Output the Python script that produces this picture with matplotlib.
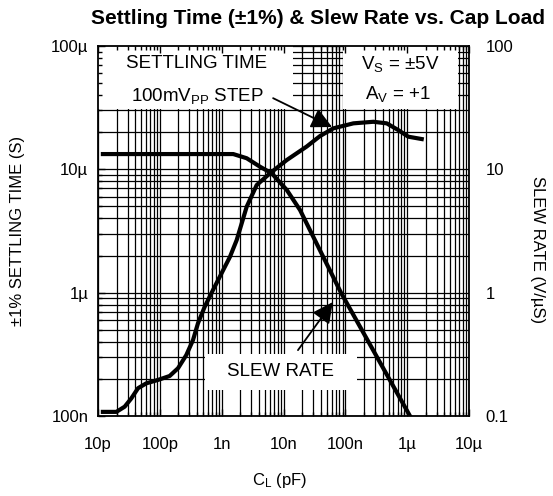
import matplotlib
matplotlib.use('Agg')
import matplotlib.pyplot as plt
from matplotlib.patches import Rectangle
from matplotlib.ticker import LogLocator, NullFormatter

plt.rcParams['font.family'] = ['Liberation Sans', 'DejaVu Sans']
plt.rcParams['mathtext.fontset'] = 'custom'
plt.rcParams['mathtext.rm'] = 'Liberation Sans'
plt.rcParams['mathtext.it'] = 'Liberation Sans'
plt.rcParams['mathtext.bf'] = 'Liberation Sans:bold'

# ---- data ----
# Settling time (+-1%), seconds, vs load capacitance (F)
cap_settle = [1.2e-11, 1.98e-11, 2.7e-11, 3.46e-11, 4.44e-11, 6.04e-11, 9.3e-11,
              1.44e-10, 1.97e-10, 2.68e-10, 3.44e-10, 4.14e-10, 5.32e-10, 7.24e-10,
              1.36e-9, 1.75e-9, 2.54e-9, 3.69e-9, 6.05e-9, 1.13e-8, 2.37e-8,
              3.89e-8, 6.4e-8, 1.35e-7, 2.84e-7, 4.67e-7, 7.19e-7, 1.04e-6, 1.72e-6]
settle = [1.08e-7, 1.08e-7, 1.19e-7, 1.39e-7, 1.68e-7, 1.84e-7, 1.96e-7,
          2.11e-7, 2.44e-7, 3.12e-7, 4.13e-7, 5.65e-7, 7.69e-7, 1.05e-6,
          1.95e-6, 2.67e-6, 4.98e-6, 7.46e-6, 9.29e-6, 1.19e-5, 1.53e-5,
          1.86e-5, 2.15e-5, 2.36e-5, 2.43e-5, 2.36e-5, 2.08e-5, 1.84e-5, 1.76e-5]

# Slew rate, V/us, vs load capacitance (F)
cap_slew = [1.2e-11, 9.4e-10, 1.54e-9, 2.54e-9, 4.17e-9, 6.44e-9, 1.13e-8,
            1.85e-8, 3.03e-8, 8.5e-8, 1.11e-6]
slew = [13.3, 13.3, 13.3, 12.3, 10.5, 9.29, 6.8, 4.68, 2.84, 1.0, 0.1]

x_ticks = [1e-11, 1e-10, 1e-9, 1e-8, 1e-7, 1e-6, 1e-5]
x_labels = ['10p', '100p', '1n', '10n', '100n', '1µ', '10µ']
yl_ticks = [1e-7, 1e-6, 1e-5, 1e-4]
yl_labels = ['100n', '1µ', '10µ', '100µ']
yr_ticks = [0.1, 1, 10, 100]
yr_labels = ['0.1', '1', '10', '100']

W, H = 553, 496
fig = plt.figure(figsize=(W / 100, H / 100), dpi=100)
pos = [98 / W, 80 / H, 371 / W, 370 / H]

# ---- grid axes ----
ax = fig.add_axes(pos)
ax.set_xscale('log')
ax.set_yscale('log')
ax.set_xlim(1e-11, 1e-5)
ax.set_ylim(1e-7, 1e-4)
for a in (ax.xaxis, ax.yaxis):
    a.set_major_locator(LogLocator(base=10, numticks=20))
    a.set_minor_locator(LogLocator(base=10, subs=range(2, 10), numticks=20))
    a.set_minor_formatter(NullFormatter())
ax.grid(True, which='both', color='black', lw=0.9)
ax.set_axisbelow(True)
ax.tick_params(which='both', length=0, labelleft=False, labelbottom=False)
for s in ax.spines.values():
    s.set_visible(False)

# white label boxes
for (x0, y0, w, h) in [(0.0, 0.830, 0.526, 0.170),
                       (0.660, 0.830, 0.310, 0.170),
                       (0.288, 0.070, 0.410, 0.098)]:
    ax.add_patch(Rectangle((x0, y0), w, h, transform=ax.transAxes,
                           facecolor='white', edgecolor='none', zorder=1))

ax.plot(cap_settle, settle, color='black', lw=3, zorder=3)

# ---- frame / ticks axes ----
ax_t = fig.add_axes(pos)
ax_t.set_facecolor('none')
ax_t.set_xscale('log')
ax_t.set_yscale('log')
ax_t.set_xlim(1e-11, 1e-5)
ax_t.set_ylim(1e-7, 1e-4)
ax_t.set_xticks(x_ticks, labels=x_labels)
ax_t.set_yticks(yl_ticks, labels=yl_labels)
for a in (ax_t.xaxis, ax_t.yaxis):
    a.set_minor_locator(LogLocator(base=10, subs=range(2, 10), numticks=20))
    a.set_minor_formatter(NullFormatter())
ax_t.tick_params(which='both', direction='in', top=True, right=True,
                 width=1, labelsize=12)
ax_t.tick_params(which='major', length=5)
ax_t.tick_params(which='minor', length=3)
ax_t.tick_params(axis='y', pad=7)
ax_t.tick_params(axis='x', pad=15)
for s in ax_t.spines.values():
    s.set_linewidth(1.3)

# ---- right axis (slew rate) ----
ax_r = ax_t.twinx()
ax_r.set_yscale('log')
ax_r.set_ylim(0.1, 100)
ax_r.set_yticks(yr_ticks, labels=yr_labels)
ax_r.yaxis.set_minor_formatter(NullFormatter())
ax_r.tick_params(which='both', length=0, labelsize=12, pad=12)
for s in ax_r.spines.values():
    s.set_visible(False)
ax_r.plot(cap_slew, slew, color='black', lw=3, clip_on=True)

# ---- annotations ----
tk = dict(transform=ax_t.transAxes, ha='center', va='center', fontsize=13.5)
ax_t.text(0.267, 0.953, 'SETTLING TIME', **tk)
ax_t.text(0.267, 0.866, r'100mV$_{\mathrm{PP}}$ STEP', **tk)
ax_t.text(0.814, 0.952, r'V$_{\mathrm{S}}$ = ±5V', **tk)
ax_t.text(0.809, 0.870, r'A$_{\mathrm{V}}$ = +1', **tk)
ax_t.text(0.491, 0.119, 'SLEW RATE', **tk)

ap = dict(arrowstyle='-|>,head_length=0.5,head_width=0.25', color='black',
          lw=1.3, mutation_scale=25, shrinkA=0, shrinkB=0)
ax_t.annotate('', xy=(0.631, 0.781), xytext=(0.472, 0.859),
              xycoords='axes fraction', textcoords='axes fraction', arrowprops=ap)
ax_t.annotate('', xy=(0.633, 0.308), xytext=(0.539, 0.178),
              xycoords='axes fraction', textcoords='axes fraction', arrowprops=ap)

# ---- titles / axis labels ----
fig.text(318 / W, 1 - 18 / H, 'Settling Time (±1%) & Slew Rate vs. Cap Load',
         ha='center', va='center', fontsize=15, fontweight='bold')
fig.text(280 / W, 1 - 480 / H, r'C$_{\mathrm{L}}$ (pF)', ha='center', va='center',
         fontsize=12)
fig.text(18 / W, 1 - 231 / H, '±1% SETTLING TIME (S)', ha='center', va='center',
         rotation=90, fontsize=12)
fig.text(537 / W, 1 - 250 / H, 'SLEW RATE (V/µS)', ha='center', va='center',
         rotation=270, fontsize=12)

fig.savefig('out.png', dpi=100)
